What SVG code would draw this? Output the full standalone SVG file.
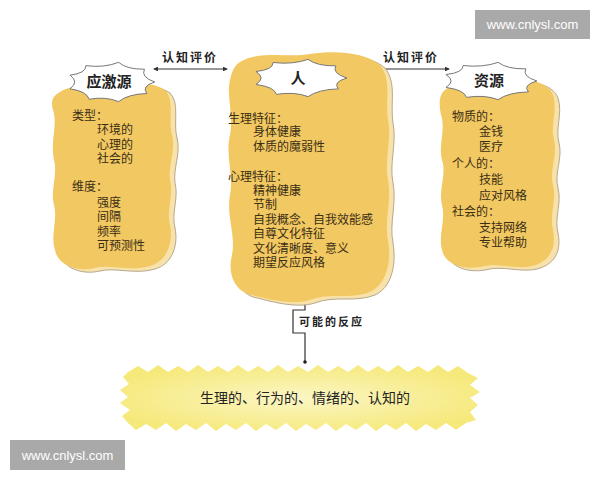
<svg xmlns="http://www.w3.org/2000/svg" xmlns:xlink="http://www.w3.org/1999/xlink" width="600" height="480" viewBox="0 0 600 480">
<defs>
<style>
.t{font-family:"Liberation Sans","Noto Sans CJK SC",sans-serif;font-size:12px;fill:#3a2e14;}
.h{font-family:"Liberation Sans","Noto Sans CJK SC",sans-serif;font-size:15px;font-weight:bold;fill:#222;text-anchor:middle;}
.lab{font-family:"Liberation Serif","Noto Sans CJK SC",serif;font-size:12px;font-weight:bold;fill:#222;letter-spacing:2px;}
.blob{fill:#F2C862;}
.shadow{fill:#F8E2AA;stroke:#B5A88E;stroke-width:1;}
.burst{fill:#fff;stroke:#777;stroke-width:1;}
.conn{fill:none;stroke:#333;stroke-width:1.2;}
.wm{fill:#A9A9A9;}
.wmt{font-family:"Liberation Sans",Arial,sans-serif;font-size:13px;fill:#fff;text-anchor:middle;}
</style>
<path id="burstShape" vector-effect="non-scaling-stroke" d="M46,0 Q31.6,4.6 37.7,12.1 Q17.8,12.7 8,20.7 Q-5.8,14.9 -23,18.2 Q-25.4,9.7 -43.2,7.2 Q-33.1,0 -43.2,-7.2 Q-26.2,-9.2 -26.4,-17.2 Q-7.1,-14.7 8,-20.7 Q16.6,-13.1 35.2,-13.5 Q31.1,-5.2 46,0 Z"/>
<path id="blobL" d="M60,92 C75,82 95,88 110,86 C130,84 150,80 165,90 C175,100 168,120 172,135 C176,150 168,165 170,180 C174,195 166,210 170,225 C174,245 165,262 150,266 C130,272 110,264 95,268 C78,272 58,266 55,250 C50,235 58,220 54,205 C50,190 58,175 54,160 C50,140 58,125 53,110 C50,100 54,95 60,92 Z"/>
<path id="blobC" d="M240,62 C260,50 290,58 310,54 C335,50 365,52 380,65 C392,80 385,100 388,120 C392,140 384,160 388,180 C392,200 384,220 388,240 C392,265 385,285 370,292 C350,300 330,292 310,300 C290,306 265,298 248,294 C232,288 228,270 232,255 C236,235 226,215 230,195 C234,175 225,155 230,135 C234,115 226,95 230,80 C232,70 235,65 240,62 Z"/>
<path id="blobR" d="M448,88 C465,78 490,84 510,80 C530,78 548,82 553,95 C558,110 550,125 554,140 C558,155 549,170 553,185 C557,200 549,215 553,230 C557,250 548,262 532,266 C515,270 498,262 480,267 C462,270 445,264 442,250 C438,235 446,220 442,205 C438,190 447,175 442,160 C438,145 446,130 441,115 C438,100 440,92 448,88 Z"/>
<radialGradient id="resGrad" cx="50%" cy="50%" r="55%">
<stop offset="0" stop-color="#FBF6C4"/>
<stop offset="1" stop-color="#F6E97C"/>
</radialGradient>
<marker id="tip" viewBox="0 0 6 6" refX="5" refY="3" markerWidth="4" markerHeight="4" orient="auto-start-reverse">
<path d="M0,0 L6,3 L0,6 Z" fill="#333"/>
</marker>
</defs>
<rect width="600" height="480" fill="#fff"/>

<g id="connectors">
<line class="conn" x1="154" y1="69" x2="227" y2="69" marker-start="url(#tip)" marker-end="url(#tip)"/>
<line class="conn" x1="376" y1="69" x2="449" y2="69" marker-start="url(#tip)" marker-end="url(#tip)"/>
<text class="lab" x="162" y="62">认知评价</text>
<text class="lab" x="383" y="62">认知评价</text>
<path class="conn" d="M305,298 V310 H293 V333 H305 V362"/>
<circle cx="305" cy="362" r="1.8" fill="#222"/>
<text class="lab" x="299" y="326" style="font-size:11px">可能的反应</text>
</g>

<g id="stressor">
<use xlink:href="#blobL" class="shadow" transform="translate(5,3)"/>
<use xlink:href="#blobL" class="blob"/>
<use xlink:href="#burstShape" class="burst" transform="translate(111,82) scale(0.95,0.95)"/>
<text class="h" x="109" y="87">应激源</text>
<text class="t" x="72" y="120">类型：</text>
<text class="t" x="97" y="134">环境的</text>
<text class="t" x="97" y="148.5">心理的</text>
<text class="t" x="97" y="162.5">社会的</text>
<text class="t" x="72" y="191">维度：</text>
<text class="t" x="97" y="206.5">强度</text>
<text class="t" x="97" y="221">间隔</text>
<text class="t" x="97" y="235.5">频率</text>
<text class="t" x="97" y="250">可预测性</text>
</g>

<g id="person">
<use xlink:href="#blobC" class="shadow" transform="translate(5,3)"/>
<use xlink:href="#blobC" class="blob"/>
<use xlink:href="#burstShape" class="burst" transform="translate(300,78) scale(1.02,0.9)"/>
<text class="h" x="298" y="84">人</text>
<text class="t" x="228" y="122.5">生理特征：</text>
<text class="t" x="253" y="136">身体健康</text>
<text class="t" x="253" y="151">体质的魔弱性</text>
<text class="t" x="228" y="181">心理特征：</text>
<text class="t" x="253" y="194.5">精神健康</text>
<text class="t" x="253" y="208.5">节制</text>
<text class="t" x="253" y="223.5">自我概念、自我效能感</text>
<text class="t" x="253" y="237.5">自尊文化特征</text>
<text class="t" x="253" y="252.5">文化清晰度、意义</text>
<text class="t" x="253" y="266.5">期望反应风格</text>
</g>

<g id="resources">
<use xlink:href="#blobR" class="shadow" transform="translate(5,3)"/>
<use xlink:href="#blobR" class="blob"/>
<use xlink:href="#burstShape" class="burst" transform="translate(490,81) scale(1.02,0.9)"/>
<text class="h" x="489" y="86">资源</text>
<text class="t" x="452" y="120.5">物质的：</text>
<text class="t" x="479" y="136">金钱</text>
<text class="t" x="479" y="151">医疗</text>
<text class="t" x="452" y="167.5">个人的：</text>
<text class="t" x="479" y="184">技能</text>
<text class="t" x="479" y="199.5">应对风格</text>
<text class="t" x="452" y="215.5">社会的：</text>
<text class="t" x="479" y="232">支持网络</text>
<text class="t" x="479" y="247">专业帮助</text>
</g>

<g id="responses">
<polygon fill="url(#resGrad)" points="128,372 138,366 148,372 158,365 168,372 178,366 188,372 198,365 208,372 218,366 228,372 238,365 248,372 258,366 268,372 278,365 288,372 298,366 308,372 318,365 328,372 338,366 348,372 358,365 368,372 378,366 388,372 398,365 408,372 418,366 428,372 438,365 448,372 458,366 468,373 478,378 470,385 480,392 470,398 478,405 470,412 476,420 466,423 456,430 446,423 436,430 426,424 416,431 406,423 396,430 386,424 376,431 366,423 356,430 346,424 336,431 326,423 316,430 306,424 296,431 286,423 276,430 266,424 256,431 246,423 236,430 226,424 216,431 206,423 196,430 186,424 176,431 166,423 156,430 146,424 136,430 128,423 122,416 130,410 120,403 128,397 120,390 129,384 123,377"/>
<text class="t" x="305" y="403" style="font-size:14px;text-anchor:middle;fill:#222">生理的、行为的、情绪的、认知的</text>
</g>

<rect class="wm" x="475" y="10" width="115" height="29"/>
<text class="wmt" x="532.5" y="29">www.cnlysl.com</text>
<rect class="wm" x="10" y="440" width="115" height="30"/>
<text class="wmt" x="67.5" y="459.5">www.cnlysl.com</text>
</svg>
